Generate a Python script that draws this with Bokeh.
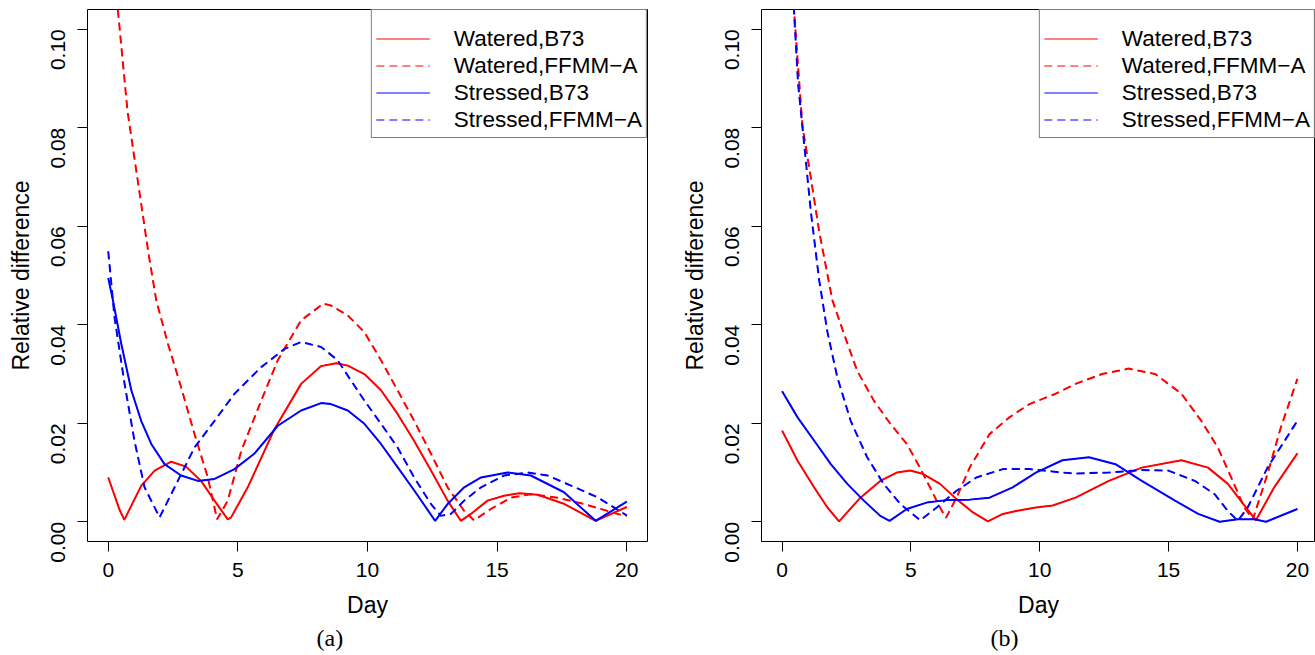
import math
from bokeh.plotting import figure
from bokeh.models import (Range1d, FixedTicker, NumeralTickFormatter, Legend, LegendItem, Title)
from bokeh.layouts import row
from bokeh.embed import file_html
from bokeh.resources import INLINE

# ---------------- data ----------------
series_labels = ["Watered,B73", "Watered,FFMM\u2212A", "Stressed,B73", "Stressed,FFMM\u2212A"]
x_ticks = [0, 5, 10, 15, 20]
y_ticks = [0.0, 0.02, 0.04, 0.06, 0.08, 0.10]
panel_labels = ["(a)", "(b)"]

# panel (a)
a_wb73_x = [0, 0.44, 0.62, 1.27, 1.79, 2.43, 3.0, 3.58, 4.1, 4.61, 4.74, 5.38, 6.42, 7.44, 8.2, 8.8, 9.24, 9.88, 10.52, 11.16, 11.79, 12.45, 13.09, 13.6, 13.99, 14.63, 15.27, 15.86, 16.57, 17.6, 18.8, 20]
a_wb73_y = [0.0090, 0.0024, 0.0004, 0.0073, 0.0104, 0.0122, 0.0112, 0.0083, 0.0043, 0.0005, 0.0009, 0.0070, 0.0189, 0.0280, 0.0316, 0.0322, 0.0317, 0.0300, 0.0267, 0.0219, 0.0165, 0.0104, 0.0043, 0.0002, 0.0016, 0.0043, 0.0053, 0.0058, 0.0055, 0.0036, 0.0002, 0.0030]

a_wff_x = [0, 0.37, 0.74, 1.07, 1.55, 1.85, 2.3, 2.81, 3.33, 3.84, 4.2, 4.61, 5.13, 5.9, 6.54, 7.44, 8.3, 8.59, 9.24, 9.88, 10.52, 11.16, 11.8, 12.45, 13.09, 13.73, 14.11, 14.76, 15.53, 16.3, 17.33, 18.36, 19.64, 20]
a_wff_y = [0.125, 0.104, 0.0835, 0.0717, 0.0546, 0.0450, 0.0362, 0.0273, 0.0178, 0.0090, 0.0005, 0.0043, 0.0144, 0.0246, 0.0328, 0.0409, 0.0443, 0.0439, 0.0419, 0.0385, 0.0328, 0.0267, 0.0205, 0.0138, 0.0070, 0.0022, 0.0003, 0.0026, 0.0049, 0.0056, 0.0049, 0.0036, 0.0016, 0.0012]

a_sb73_x = [0, 0.18, 0.5, 0.89, 1.27, 1.66, 2.17, 2.81, 3.46, 4.1, 4.87, 5.63, 6.54, 7.44, 8.21, 8.59, 9.24, 9.88, 10.52, 11.16, 11.81, 12.61, 13.09, 13.73, 14.38, 15.4, 16.3, 17.58, 18.8, 20]
a_sb73_y = [0.0495, 0.0450, 0.0362, 0.0267, 0.0205, 0.0158, 0.0117, 0.0094, 0.0083, 0.0087, 0.0107, 0.0138, 0.0195, 0.0226, 0.0241, 0.0239, 0.0226, 0.0199, 0.0158, 0.0111, 0.0063, 0.0002, 0.0036, 0.0070, 0.0090, 0.0100, 0.0094, 0.0060, 0.0002, 0.0041]

a_sff_x = [0, 0.24, 0.63, 1.01, 1.4, 1.98, 2.56, 3.33, 4.1, 4.87, 5.9, 6.8, 7.44, 8.21, 8.85, 9.36, 9.88, 10.52, 11.16, 11.8, 12.45, 12.83, 13.22, 13.73, 14.38, 15.27, 16.18, 16.95, 17.87, 18.9, 19.9, 20]
a_sff_y = [0.0549, 0.0416, 0.0280, 0.0165, 0.0070, 0.0009, 0.0070, 0.0151, 0.0205, 0.0260, 0.0314, 0.0351, 0.0365, 0.0355, 0.0328, 0.0287, 0.0246, 0.0199, 0.0151, 0.0090, 0.0036, 0.0012, 0.0016, 0.0043, 0.0070, 0.0094, 0.0100, 0.0094, 0.0073, 0.0049, 0.0016, 0.0013]

# panel (b)
b_wb73_x = [0, 0.6, 1.24, 1.76, 2.21, 3.04, 3.81, 4.45, 4.97, 5.48, 6.13, 6.77, 7.41, 7.99, 8.57, 9.08, 9.85, 10.5, 11.39, 12.68, 13.96, 15.5, 16.53, 17.3, 17.8, 18.39, 19.1, 20]
b_wb73_y = [0.0185, 0.0124, 0.0070, 0.0029, 0.0001, 0.0049, 0.0083, 0.0100, 0.0104, 0.0097, 0.0077, 0.0046, 0.0019, 0.0001, 0.0016, 0.0022, 0.0029, 0.0033, 0.0049, 0.0083, 0.0110, 0.0125, 0.0110, 0.0077, 0.0043, 0.0003, 0.0070, 0.0139]

b_wff_x = [0, 0.46, 0.79, 1.11, 1.44, 1.95, 2.4, 2.91, 3.56, 4.2, 4.84, 5.35, 5.74, 6.13, 6.36, 6.77, 7.28, 8.05, 8.82, 9.6, 10.62, 11.39, 12.42, 13.45, 14.48, 15.5, 16.27, 16.91, 17.43, 17.94, 18.27, 18.84, 19.36, 20]
b_wff_y = [0.150, 0.1039, 0.0803, 0.0700, 0.0589, 0.0450, 0.0382, 0.0307, 0.0246, 0.0199, 0.0158, 0.0110, 0.0070, 0.0029, 0.0008, 0.0049, 0.0110, 0.0178, 0.0212, 0.0239, 0.0260, 0.0280, 0.0300, 0.0311, 0.0300, 0.0260, 0.0205, 0.0151, 0.0090, 0.0029, 0.0005, 0.0097, 0.0192, 0.0290]

b_sb73_x = [0, 0.6, 1.24, 1.89, 2.53, 3.17, 3.81, 4.17, 4.84, 5.61, 6.38, 7.28, 8.05, 8.95, 9.85, 10.88, 11.91, 12.94, 13.96, 15.25, 16.15, 16.98, 17.69, 18.33, 18.78, 20]
b_sb73_y = [0.0265, 0.0212, 0.0165, 0.0117, 0.0077, 0.0043, 0.0012, 0.0002, 0.0026, 0.0039, 0.0044, 0.0045, 0.0049, 0.0070, 0.0100, 0.0125, 0.0131, 0.0117, 0.0083, 0.0043, 0.0016, 0.0000, 0.0005, 0.0005, 0.0000, 0.0026]

b_sff_x = [0, 0.46, 0.62, 0.87, 1.11, 1.44, 1.76, 2.14, 2.66, 3.3, 3.94, 4.59, 5.36, 6.0, 6.77, 7.54, 8.57, 9.6, 10.88, 11.39, 12.68, 13.96, 14.99, 16.02, 16.79, 17.3, 17.69, 18.07, 18.84, 20]
b_sff_y = [0.160, 0.1039, 0.0889, 0.0760, 0.0632, 0.0490, 0.0385, 0.0294, 0.0205, 0.0131, 0.0077, 0.0036, 0.0003, 0.0029, 0.0063, 0.0090, 0.0107, 0.0107, 0.0100, 0.0098, 0.0100, 0.0105, 0.0104, 0.0083, 0.0056, 0.0022, 0.0002, 0.0029, 0.0110, 0.0205]

# ---------------- styling ----------------
SANS = "Liberation Sans"
SERIF = "Liberation Serif"
RED = "#FF0000"
BLUE = "#0000FF"
styles = [(RED, "solid"), (RED, "8 5"), (BLUE, "solid"), (BLUE, "8 5")]


def make_panel(series, label, width, x_end, border_left, border_right):
    p = figure(width=width, height=655, output_backend="svg", toolbar_location=None,
               x_range=Range1d(-0.8, x_end), y_range=Range1d(-0.004, 0.104),
               min_border_left=border_left, min_border_right=border_right,
               min_border_top=9, min_border_bottom=114)
    p.background_fill_color = "white"
    p.border_fill_color = "white"
    p.outline_line_color = "black"
    p.outline_line_width = 1
    p.xgrid.visible = False
    p.ygrid.visible = False

    # thin copies (drawn first, hidden under the main lines) give R-style thin legend samples
    items = []
    for lab, (xs, ys), (col, dash) in zip(series_labels, series, styles):
        r = p.line(xs, ys, line_color=col, line_width=1, line_dash=dash)
        items.append(LegendItem(label=lab, renderers=[r]))
    for (xs, ys), (col, dash) in zip(series, styles):
        p.line(xs, ys, line_color=col, line_width=2, line_dash=dash)

    leg = Legend(items=items, location="top_right", margin=0, padding=4, spacing=0,
                 title=" ", title_text_font_size="1px", title_standoff=10,
                 glyph_width=54, glyph_height=27, label_height=27, label_standoff=24,
                 label_text_font=SANS, label_text_font_size="22.5px", label_text_color="black",
                 border_line_color="black", border_line_width=1,
                 background_fill_color="white", background_fill_alpha=1.0)
    p.add_layout(leg)

    for ax in (p.xaxis[0], p.yaxis[0]):
        ax.axis_line_color = None
        ax.major_tick_line_color = "black"
        ax.major_tick_out = 10
        ax.major_tick_in = 0
        ax.minor_tick_line_color = None
        ax.major_label_text_font = SANS
        ax.major_label_text_font_size = "21px"
        ax.major_label_text_color = "black"
        ax.axis_label_text_font = SANS
        ax.axis_label_text_font_size = "23px"
        ax.axis_label_text_font_style = "normal"
        ax.axis_label_text_color = "black"
    p.xaxis.ticker = FixedTicker(ticks=x_ticks)
    p.yaxis.ticker = FixedTicker(ticks=y_ticks)
    p.yaxis.formatter = NumeralTickFormatter(format="0.00")
    p.yaxis.major_label_orientation = math.pi / 2
    p.xaxis.axis_label = "Day"
    p.yaxis.axis_label = "Relative difference"
    p.xaxis.major_label_standoff = 11
    p.xaxis.axis_label_standoff = 12
    p.yaxis.major_label_standoff = 19
    p.yaxis.axis_label_standoff = 8

    p.add_layout(Title(text=label, align="left", offset=229, standoff=5,
                       text_font=SERIF, text_font_size="24px", text_font_style="normal",
                       text_color="black"), "below")
    return p


pa = make_panel([(a_wb73_x, a_wb73_y), (a_wff_x, a_wff_y), (a_sb73_x, a_sb73_y), (a_sff_x, a_sff_y)],
                panel_labels[0], 678, 20.8, 87, 31)
pb = make_panel([(b_wb73_x, b_wb73_y), (b_wff_x, b_wff_y), (b_sb73_x, b_sb73_y), (b_sff_x, b_sff_y)],
                panel_labels[1], 637, -0.8 + 558 / 25.95, 79, 0)

layout = row(pa, pb)
open("out.html", "w").write(file_html(layout, INLINE))
